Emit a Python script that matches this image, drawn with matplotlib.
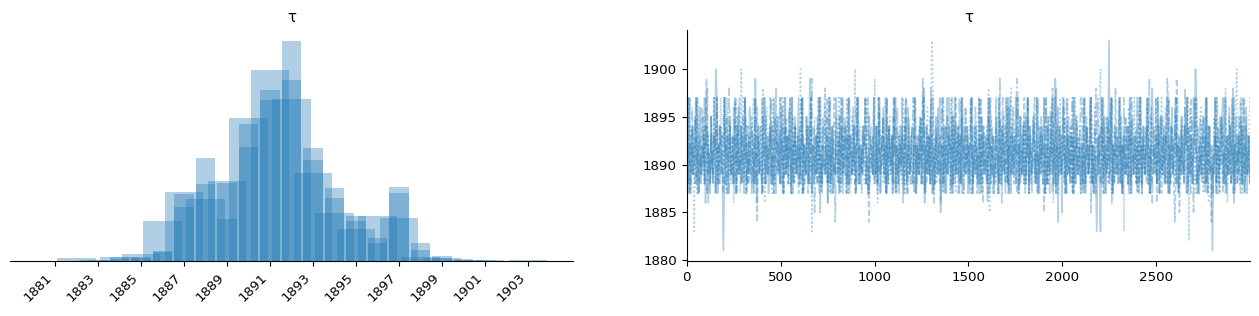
import numpy as np
import matplotlib
matplotlib.use("Agg")
import matplotlib.pyplot as plt

N_DRAWS = 3000
VAR_NAME = "τ"
COLOR = "#1f77b4"
LINESTYLES = ["-", "--", ":", "-."]

# ---- histogram data per chain (bin start year, sample count) ----
chain0_hist_years = [1881, 1883, 1885, 1887, 1889, 1891, 1893, 1895, 1897, 1899, 1901, 1903]
chain0_hist_counts = [2, 6, 40, 395, 458, 1093, 503, 183, 246, 17, 6, 3]
chain0_bin_width = 2

chain1_hist_years = [1883, 1884, 1885, 1886, 1887, 1888, 1889, 1890, 1891, 1892,
                     1893, 1894, 1895, 1896, 1897, 1898, 1899, 1900, 1901]
chain1_hist_counts = [3, 11, 11, 29, 192, 220, 120, 392, 489, 629,
                      323, 209, 129, 66, 194, 51, 14, 6, 3]
chain1_bin_width = 1

chain2_hist_years = [1882, 1884, 1886, 1888, 1890, 1892, 1894, 1896, 1898, 1900, 1902]
chain2_hist_counts = [17, 23, 229, 355, 818, 927, 275, 257, 23, 6, 2]
chain2_bin_width = 2

chain3_hist_years = [1884, 1885, 1886, 1887, 1888, 1889, 1890, 1891, 1892,
                     1893, 1894, 1895, 1896, 1897, 1898, 1899, 1900]
chain3_hist_counts = [6, 9, 26, 154, 295, 223, 326, 460, 518,
                      289, 180, 114, 51, 212, 31, 9, 3]
chain3_bin_width = 1

hist_tick_years = [1881, 1883, 1885, 1887, 1889, 1891, 1893, 1895, 1897, 1899, 1901, 1903]

# ---- trace values (thinned), one character per value: year = 1880 + base36 digit ----
chain0_trace = [
    "b8ch7ae9c8hb7dg8bcah6ce9b7fa8dckh7c8eb918hbd7cf9a8gb7ec9ha8d",
    "c7he8b9gc7ad8jb6ec9a7fbh8dc7ae9b8hc7dfa8bg7ch9ad8eh7bc8fa9dh",
    "8bdh7ca9e8bjh7c8ad9fb7hc8ea9bd6ch8be7a9hdc7fb8ha9ec8h7bd9gac",
    "7dhb8ca9ech8b7fdca9h8eb7ch9dagb8h7cea9d8fbh7c8da9eb7ch8gd9ab",
    "e8bh7ca9fd8ci6bea9d8hc7b8fda9h5c8ae7bh9dc8f7bh9aec7d8hcb9ae7",
    "c8bh7ed9ac8hb7fc9da8eh7cb9d8afc7h8be9da7hc8gb7ea9d8ch7bf9ae8",
    "b9hc7e8adfc8bh7ad9ebh7c8fa9dbh8ej7bg9ad5hbc7e9fa8dc7h8be9ac7",
    "d8bh7ec9afh8c7b93ad93ch8eb7fan9dh7c8bea9fh8c7db9ae8h7cf9bda8",
    "c7hb8ed9afh8c7bie9ad8hc7fb9ae8dh7c8bg9aeh8c7db9fa8ech7b9da8h",
    "ckh8a7db9efc8h7be9a18dh7cb9faeh8c7bd9ga8ei6cb8d9afc8hb7e9da8",
]
chain1_trace = [
    "c8h7bd9eaf8hc7b9gad8ej7cb8fa9dc7h8be9ad7hc8fb7ea9d8ch7bg9ae8",
    "b9hc7e8adfc8bh74d9ebh7c8fa9dbh8ec7bi9ad8hbc7e9fa8dc7h8be9ac7",
    "e8bh7ca9fd8ch7bea9d8hc5b8fdi9h6c8ae7bh9dc8f7bh9aec7d8hcb9ae7",
    "7dhb8ca9ech8b74dca9ha9e8hc7bdf9c7h8ebad7gh8c9b7eada8fh7cb9d8",
    "8bdh7ca9e8bjh7c8ad9fb7hc8ea9bd6ch8be7a9hdc7fb8ha9ec8h7bd9gac",
    "c7he8b9gc7ad8hb6ec9a7fbh8dc7ae9b8jc6dfa8bg7ch9ad8eh7bc8fa9dh",
    "d8bh7ec9afh8c7b9ead95ch8eb7fai9dh7c8bea9fh8c7db9ae8h7cf9bda8",
    "c7hb8ed9afh8c7bie9ad8hc7fb9ae8dh6c8bi9aeh8c7db9fa8ech7b9da8h",
    "b8ch7ae9c8hb7dg8bcah6ce9b7fa8dcjh7c8eb948jbd5cf9a8gb7ec9ha8d",
    "dh8a7cb9ef8ch7be9a4c9ad8hc7bfe7bh8dc9ae8c9h7db8fa7e8bh9c7ad8",
]
chain2_trace = [
    "9c8h7ea93fd7hc8b9ae8hc7db8fa9h7e8cb9hda8fc7hb9e8da6ch8e9b7kc",
    "h8c7eb9da8fh7c8bd9ae8ic6bg9ad8e7hc8bf9adc8h7be9da8hc7fb8e9ad",
    "ak8h7cb9ed8ch37bf9aed8h7cb9ga8eh7c8bd9afc8hb7e9da8hc7db8fa9k",
    "7hc8eb9da8fhc7b8ed9aj8c6bg9ad8eh7cb8f9ad8hc7eb9da8hc7fb8e9ad",
    "c8h7bd9eaf8hc7b9gad8jnh7cb8fa9dc7h8be9ad7hc8fb7ea9d8ch7bg9ae",
    "9dh7c8bea9fh8c7db9ae8i5cf9bda8c7hb8ed9afh8c7bie9ad8hc7fb9ae8",
    "e8bh7ca9fd8ch7bea9d8hc7b8fda9h6c8ae7bh9dc8f7bh9aec7d8hcb9ae7",
    "b8ch7ae9c8hb7dg8bcahkce9b7fa8dch7c8eb9a8hbd7c3f9a8gb7ec9ha8d",
    "7dhb8ca9ech8b7fdca9h8eb7ch9dagb8h7cea9d8fbh7c8da9eb7ch2gd9ab",
    "c7he8b9gc7ad8hb6ec9a7fbh8dc7ae9b8ic6dfa8bg7chkad8eh7bc8fa9dh",
]
chain3_trace = [
    "dh7c8bg9aeh8c7db9fa8eci6b9da8hc7hb8ed9afh8c7bie9ad8hc7fb9ae8",
    "fbh7c8da9eb7ch8gd9ab7dhb8ca9ech8b7fdca9h8eb7ch9dagb8h7cea9d8",
    "c9h7db8fa7e8bj9c5ad8dh8a7cb9ef8ch7be9a4c9ad8hc7bfe7bh8dc9ae8",
    "gh8c9b7eada8fh7cb9d8a9e8hc7bdf9c7h8ebad7hb7dg8bcah6ce9b7fa8d",
    "eh7cb8d9afc8hb7e9da8i8c6bd9ga88dh7cb9faec7h8be9ad7hc8fb7ea9d",
    "8bdh7ca9e8b7hc8ea9bd6ch8be7a9hdc7fb8ha9ec8h7bd9gacbjh7c8ad9f",
    "7fbh8dc7ae9b8hc7dfa8c7he8b9gc7ad8ib4ec9abg7ch9ad8eh7bc8fa9dh",
    "hc7b8fda9h5c8ae7bh9de8bh7ca9fd8ch7bea9d8c8f7bh9aec7d8hcb9ae7",
    "fh8c7db9ae9dj7c6bea98h7cf9bda8d8bh7ec9afh8c7b9ead9ich8eb7fa5",
    "hbc7e9fa8dc7h8be9ac7b9hc7e8adfc8bh7ad9ebh7c8fa9dbh8ec7bg9ad8",
]


def decode(segments):
    return np.array([1880 + int(ch, 36) for seg in segments for ch in seg], dtype=float)


hists = [
    (chain0_hist_years, chain0_hist_counts, chain0_bin_width),
    (chain1_hist_years, chain1_hist_counts, chain1_bin_width),
    (chain2_hist_years, chain2_hist_counts, chain2_bin_width),
    (chain3_hist_years, chain3_hist_counts, chain3_bin_width),
]
traces = [decode(chain0_trace), decode(chain1_trace), decode(chain2_trace), decode(chain3_trace)]

plt.rcParams["font.family"] = ["DejaVu Sans"]
FS = 9.6

fig = plt.figure(figsize=(12.59, 3.16), dpi=100)
ax_h = fig.add_axes([10 / 1259, 55 / 316, 563 / 1259, 231 / 316])
ax_t = fig.add_axes([686.7 / 1259, 55 / 316, 563.3 / 1259, 231 / 316])

# left: per-chain histograms
for years, counts, w in hists:
    dens = np.asarray(counts, dtype=float) / (N_DRAWS * w)
    ax_h.bar(years, dens, width=0.9 * w, align="center", color=COLOR, alpha=0.35, linewidth=0)
ax_h.set_yticks([])
for s in ("left", "top", "right"):
    ax_h.spines[s].set_visible(False)
ax_h.set_xticks(hist_tick_years)
ax_h.set_xticklabels([str(y) for y in hist_tick_years], rotation=45, ha="right", fontsize=FS)
ax_h.set_title(VAR_NAME, fontsize=FS + 1)

# right: trace per chain
for vals, ls in zip(traces, LINESTYLES):
    x = np.linspace(0, N_DRAWS - 1, len(vals))
    ax_t.plot(x, vals, color=COLOR, alpha=0.35, linestyle=ls, linewidth=1.2)
ax_t.set_xlim(0, N_DRAWS - 1)
for s in ("top", "right"):
    ax_t.spines[s].set_visible(False)
ax_t.tick_params(labelsize=FS)
ax_t.set_title(VAR_NAME, fontsize=FS + 1)

fig.savefig("out.png", dpi=100)
